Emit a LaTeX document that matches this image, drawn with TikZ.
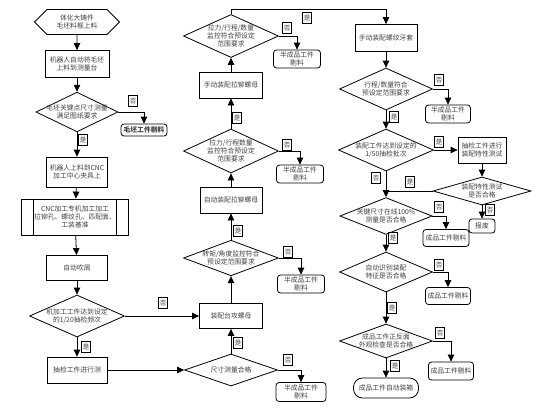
\documentclass[tikz,border=0pt]{standalone}
\usepackage{fontspec}
\setmainfont{Noto Sans CJK SC}
\usetikzlibrary{positioning, shapes.geometric, shapes.symbols, arrows.meta}

\begin{document}
\begin{tikzpicture}[x=1pt, y=-1pt, line width=0.8pt, >={Triangle[length=7pt, width=6.5pt]},
  every node/.style={font=\fontsize{6.8}{8.2}\selectfont, align=center, text=black!75},
  hexa/.style={draw, signal, signal to=west and east, signal pointer angle=90, minimum width=85, minimum height=25, inner sep=1pt},
  box/.style={draw, rectangle, minimum width=62, minimum height=26, inner sep=0pt},
  dia/.style={draw, diamond, inner xsep=-12pt, inner ysep=-6pt, minimum width=95, minimum height=42},
  semi/.style={draw, rounded corners=3pt, minimum width=47, minimum height=18, inner sep=0pt},
  proc/.style={draw, rectangle, minimum width=107, minimum height=36, inner sep=0pt,
    path picture={\draw ([xshift=12pt]path picture bounding box.north west) -- ([xshift=12pt]path picture bounding box.south west)
      ([xshift=-12pt]path picture bounding box.north east) -- ([xshift=-12pt]path picture bounding box.south east);}},
  tag/.style={draw, line width=0.5pt, inner xsep=1.2pt, inner ysep=2.5pt, font=\fontsize{6.5}{7}\selectfont}]
  \useasboundingbox (0,0) rectangle (538,407);

  % left column
  \node[hexa](start) at (77,22){体化大铸件\\毛坯料框上料};
  \node[box, minimum width=64, minimum height=27](robot) at (77,64){机器人自动将毛坯\\上料到测量台};
  \node[dia, minimum width=82, minimum height=35](chk1) at (77,112){毛坯关键点尺寸测量\\满足图纸要求};
  \node[semi, minimum width=46, minimum height=12](mscrap) at (144,130){\bfseries 毛坯工件剔料};
  \node[box, minimum width=61, minimum height=30](cncload) at (77,172){机器人上料到CNC\\加工中心夹具上};
  \node[proc](cnc) at (75,217){CNC加工专机加工加工\\拉铆孔、螺纹孔、匹配面、\\工装基准};
  \node[box, minimum width=61, minimum height=25](blow) at (77,268){自动吹屑};
  \node[dia](chk2) at (77,316){机加工工件达到设定\\的1/20抽检频次};
  \node[box, minimum width=60](samp) at (77,370){抽检工件进行测};

  % middle column
  \node[dia, minimum height=32, minimum width=93](size) at (231,370){尺寸测量合格};
  \node[semi, minimum width=50, minimum height=19](semi4) at (301,392){半成品工件\\剔料};
  \node[box, minimum width=63, minimum height=25](tap) at (231,316){装配台攻螺母};
  \node[dia, minimum height=32](tor) at (231,258){转矩/角度监控符合\\预设定范围要求};
  \node[semi](semi3) at (301,284){半成品工件\\剔料};
  \node[box](auto) at (231,200){自动装配拉铆螺母};
  \node[dia, minimum height=44](pull2) at (231,151){拉力/行程数量\\监控符合预设定\\范围要求};
  \node[semi](semi2) at (300,174){半成品工件\\剔料};
  \node[box, minimum width=63](manual) at (231,85){手动装配拉铆螺母};
  \node[dia, minimum height=43](pull1) at (231,36){拉力/行程/数量\\监控符合预设定\\范围要求};
  \node[semi](semi1) at (297,59){半成品工件\\剔料};

  % right column
  \node[box, minimum height=27](thread) at (386,38){手动装配螺纹牙套};
  \node[dia, minimum width=93](stroke) at (386,89){行程/数量符合\\预设定范围要求};
  \node[semi, minimum width=45](semi5) at (448,114){半成品工件\\剔料};
  \node[dia](batch) at (386,150){装配工件达到设定的\\1/50抽检批次};
  \node[box, minimum width=48](test) at (482,150){抽检工件进行\\装配特性测试};
  \node[dia, minimum width=98, minimum height=28](feat) at (482,191){装配特性测试\\是否合格};
  \node[semi, minimum width=26, minimum height=14](scrap) at (482,226){报废};
  \node[dia, minimum width=92, minimum height=34](key) at (386,216){关键尺寸在线100\%\\测量是否合格};
  \node[semi, minimum width=46, minimum height=17](bad1) at (446,238){成品工件剔料};
  \node[dia, minimum width=93, minimum height=40](ident) at (386,272){自动识别装配\\特征是否合格};
  \node[semi, minimum width=45, minimum height=17](bad2) at (448,296){成品工件剔料};
  \node[dia, minimum width=93, minimum height=34](look) at (386,341){成品工件正反面\\外观检查是否合格};
  \node[semi, minimum width=45](bad3) at (451,371){成品工件剔料};
  \node[draw, rounded corners=9pt, minimum width=65, minimum height=20](pack) at (386,388){成品工件自动装箱};

  % yes / no tags
  \node[tag](n1) at (133,101){否};
  \node[tag](y1) at (83,140){是};
  \node[tag](n2) at (163,303){否};
  \node[tag](y2) at (86,347){是};
  \node[tag](n3) at (288,360){否};
  \node[tag](y3) at (238,343){是};
  \node[tag](n4) at (288,252){否};
  \node[tag](y4) at (238,231){是};
  \node[tag](n5) at (287,145){否};
  \node[tag](y5) at (237,118){是};
  \node[tag](n6) at (287,28){否};
  \node[tag](y6) at (307,18){是};
  \node[tag](n7) at (439,80){否};
  \node[tag](y7) at (394,117){是};
  \node[tag](y8) at (439,142){是};
  \node[tag](n8) at (376,178){否};
  \node[tag](y9) at (410,182){是};
  \node[tag](n9) at (490,210){否};
  \node[tag](n10) at (439,207){否};
  \node[tag](y10) at (393,238){是};
  \node[tag](n11) at (439,265){否};
  \node[tag](y11) at (392,308){是};
  \node[tag](n12) at (440,333){否};
  \node[tag](y12) at (395,366){是};

  \draw[->](start) -- (robot);
  \draw[->](robot) -- (chk1);
  \draw[->](chk1.east) -| (mscrap.north);
  \draw[->](chk1) -- (cncload);
  \draw[->](cncload) -- (cnc);
  \draw[->](cnc) -- (blow);
  \draw[->](blow) -- (chk2);
  \draw[->](chk2) -- (tap);
  \draw[->](chk2) -- (samp);
  \draw[->](samp) -- (size);
  \draw[->](size.east) -| (semi4.north);
  \draw[->](size) -- (tap);
  \draw[->](tap) -- (tor);
  \draw[->](tor.east) -| (semi3.north);
  \draw[->](tor) -- (auto);
  \draw[->](auto) -- (pull2);
  \draw[->](pull2.east) -| (semi2.north);
  \draw[->](pull2) -- (manual);
  \draw[->](manual) -- (pull1);
  \draw[->](pull1.east) -| (semi1.north);
  \draw[->](pull1.north) -- ++(0,-5) -| (thread.north);
  \draw[->](thread) -- (stroke);
  \draw[->](stroke.east) -| (semi5.north);
  \draw[->](stroke) -- (batch);
  \draw[->](batch) -- (test);
  \draw[->](test) -- (feat);
  \draw[->](feat) -- (scrap);
  \draw(feat.west) -- (feat.west -| batch.south);
  \draw[->](batch) -- (key);
  \draw[->](key.east) -| (bad1.north);
  \draw[->](key) -- (ident);
  \draw[->](ident.east) -| (bad2.north);
  \draw[->](ident) -- (look);
  \draw[->](look.east) -| (bad3.north);
  \draw[->](look) -- (pack);
\end{tikzpicture}
\end{document}
